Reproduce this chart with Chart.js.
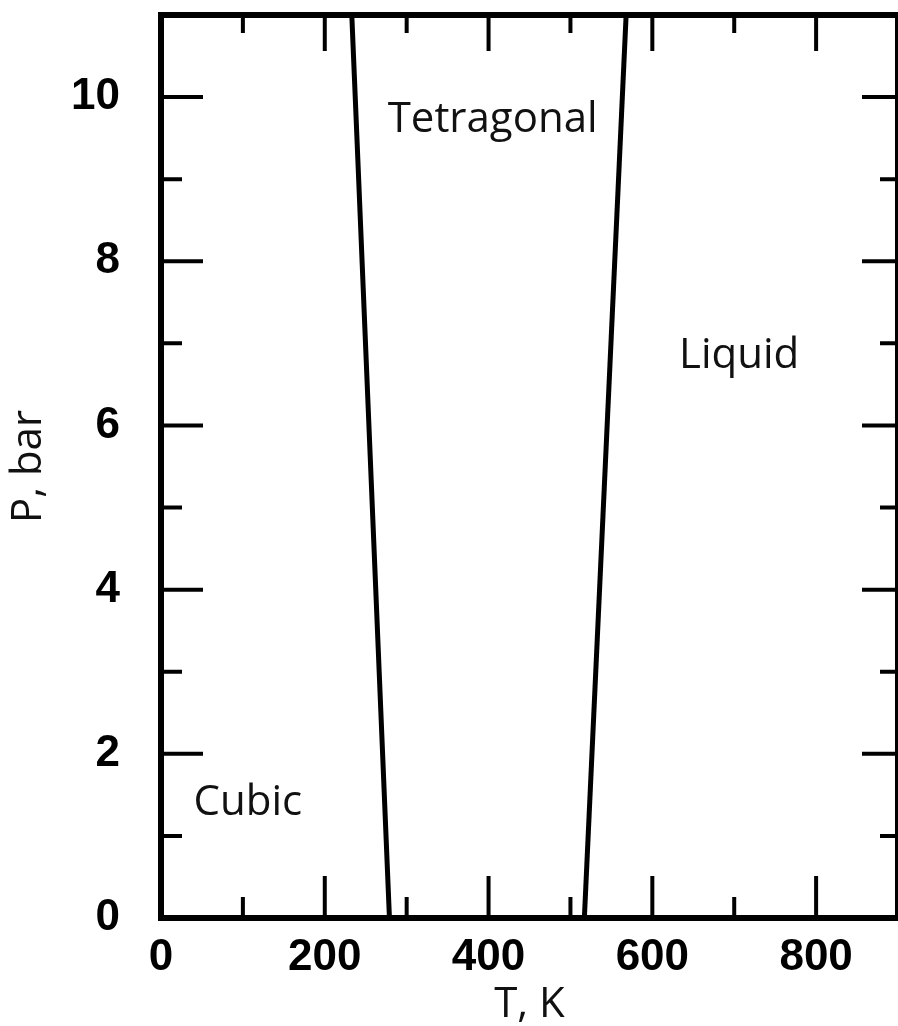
<!DOCTYPE html>
<html>
<head>
<meta charset="utf-8">
<script src="https://cdn.jsdelivr.net/npm/chart.js@4"></script>
<style>
  html, body { margin: 0; padding: 0; background: #fff; }
  canvas { display: block; }
</style>
</head>
<body>
<canvas id="phaseChart" width="898" height="1026"></canvas>
<script>
// phase boundaries, T in K at P = 0 and P = 11 bar
const pressure = [0, 11];
const cubicTetragonalT = [279, 233];
const tetragonalLiquidT = [517, 568];

// phase region labels
const phaseNames = ["Tetragonal", "Liquid", "Cubic"];
const phaseT = [405, 706, 106];
const phaseP = [9.72, 6.85, 1.4];

const toPoints = (temps) => temps.map((t, i) => ({ x: t, y: pressure[i] }));

// frame + inward ticks on all four sides
const frameTicks = {
  id: "frameTicks",
  afterDatasetsDraw(chart) {
    const { ctx, chartArea: a, scales } = chart;
    ctx.save();
    ctx.strokeStyle = "#000";
    ctx.lineCap = "butt";
    ctx.lineWidth = 4;
    scales.x.ticks.forEach((t) => {
      if (t.value <= 0 || t.value >= 900) return;
      const px = scales.x.getPixelForValue(t.value);
      const major = t.value % 200 === 0;
      ctx.beginPath();
      ctx.moveTo(px, a.bottom);
      ctx.lineTo(px, a.bottom - (major ? 42 : 21));
      ctx.moveTo(px, a.top);
      ctx.lineTo(px, a.top + (major ? 36 : 18));
      ctx.stroke();
    });
    scales.y.ticks.forEach((t) => {
      if (t.value <= 0 || t.value >= 11) return;
      const py = scales.y.getPixelForValue(t.value);
      const major = t.value % 2 === 0;
      ctx.beginPath();
      ctx.moveTo(a.left, py);
      ctx.lineTo(a.left + (major ? 42 : 21), py);
      ctx.moveTo(a.right, py);
      ctx.lineTo(a.right - (major ? 36 : 18), py);
      ctx.stroke();
    });
    ctx.lineWidth = 6;
    ctx.strokeRect(a.left, a.top, a.right - a.left, a.bottom - a.top);
    ctx.restore();
  },
};

const phaseLabels = {
  id: "phaseLabels",
  afterDatasetsDraw(chart) {
    const { ctx, scales } = chart;
    ctx.save();
    ctx.fillStyle = "#111";
    ctx.font = "42px 'Open Sans'";
    ctx.textAlign = "center";
    ctx.textBaseline = "middle";
    phaseNames.forEach((name, i) => {
      ctx.fillText(name, scales.x.getPixelForValue(phaseT[i]), scales.y.getPixelForValue(phaseP[i]));
    });
    ctx.restore();
  },
};

const ctx = document.getElementById("phaseChart").getContext("2d");
new Chart(ctx, {
  type: "scatter",
  data: {
    datasets: [
      { label: "Cubic / Tetragonal", data: toPoints(cubicTetragonalT) },
      { label: "Tetragonal / Liquid", data: toPoints(tetragonalLiquidT) },
    ],
  },
  options: {
    responsive: false,
    animation: false,
    layout: { padding: { top: 15, right: 0, left: 0, bottom: 0 } },
    elements: {
      line: { borderColor: "#000", borderWidth: 5, tension: 0 },
      point: { radius: 0, hoverRadius: 0 },
    },
    datasets: { scatter: { showLine: true } },
    plugins: {
      legend: { display: false },
      tooltip: { enabled: false },
    },
    scales: {
      x: {
        type: "linear",
        min: 0,
        max: 900,
        afterFit: (s) => {
          s.height = 108;
          s.paddingLeft = 0;
          s.paddingRight = 0;
        },
        grid: { display: false, drawTicks: false },
        border: { display: false },
        ticks: {
          stepSize: 100,
          padding: 13,
          color: "#000",
          maxRotation: 0,
          autoSkip: false,
          font: { family: "'Liberation Sans', Arial", size: 44, weight: "bold" },
          callback: (v) => (v % 200 === 0 && v < 900 ? v : ""),
        },
        title: {
          display: true,
          text: "T, K",
          color: "#111",
          padding: { top: 0, bottom: 0 },
          font: { family: "'Open Sans'", size: 42, lineHeight: 1 },
        },
      },
      y: {
        type: "linear",
        min: 0,
        max: 11,
        afterFit: (s) => {
          s.width = 161;
          s.paddingTop = 0;
          s.paddingBottom = 0;
        },
        grid: { display: false, drawTicks: false },
        border: { display: false },
        ticks: {
          stepSize: 1,
          padding: 41,
          color: "#000",
          autoSkip: false,
          font: { family: "'Liberation Sans', Arial", size: 44, weight: "bold" },
          callback: (v) => (v % 2 === 0 ? v : ""),
        },
        title: {
          display: true,
          text: "P, bar",
          color: "#111",
          padding: { top: 8, bottom: 0 },
          font: { family: "'Open Sans'", size: 42, lineHeight: 1 },
        },
      },
    },
  },
  plugins: [frameTicks, phaseLabels],
});
</script>
</body>
</html>
